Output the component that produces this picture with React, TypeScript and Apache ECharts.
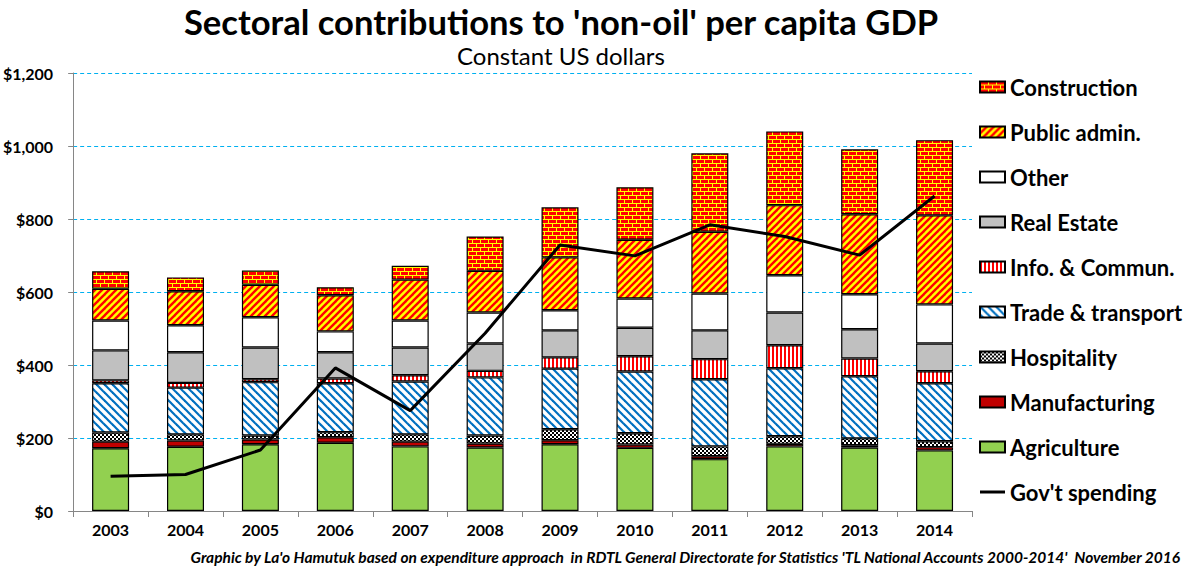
import React, { useEffect, useRef } from "react";
import * as echarts from "echarts";

const years = ["2003", "2004", "2005", "2006", "2007", "2008", "2009", "2010", "2011", "2012", "2013", "2014"];
const agriculture = [172, 176, 183, 187, 177, 174, 183, 173, 142, 177, 174, 166];
const manufacturing = [18, 17, 13, 15, 13, 11, 11, 9, 8, 7, 6, 9];
const hospitality = [25, 17, 11, 14, 20, 22, 30, 31, 27, 21, 19, 16];
const tradeTransport = [135, 128, 146, 134, 145, 159, 166, 169, 184, 186, 170, 159];
const infoCommun = [8, 13, 8, 13, 17, 18, 31, 42, 55, 63, 49, 33];
const realEstate = [82, 84, 87, 72, 76, 75, 74, 78, 79, 90, 80, 76];
const other = [82, 74, 83, 57, 74, 85, 55, 80, 101, 102, 96, 107];
const publicAdmin = [87, 93, 89, 99, 112, 114, 145, 161, 169, 192, 219, 244];
const construction = [48, 38, 39, 22, 38, 94, 137, 144, 215, 202, 178, 206];
const govSpending = [95, 100, 167, 392, 275, 487, 729, 699, 784, 752, 701, 863];

const FONT = "Lato, 'Liberation Sans', sans-serif";

function makePattern(w: number, h: number, draw: (ctx: CanvasRenderingContext2D) => void) {
  const c = document.createElement("canvas");
  c.width = w;
  c.height = h;
  const ctx = c.getContext("2d") as CanvasRenderingContext2D;
  draw(ctx);
  return { image: c.toDataURL(), repeat: "repeat", imageWidth: w, imageHeight: h } as any;
}

function diag(ctx: CanvasRenderingContext2D, size: number, color: string, lw: number, forward: boolean) {
  ctx.strokeStyle = color;
  ctx.lineWidth = lw;
  for (let k = -size; k <= size; k += size) {
    ctx.beginPath();
    if (forward) {
      ctx.moveTo(k - 1, size + 1);
      ctx.lineTo(k + size + 1, -1);
    } else {
      ctx.moveTo(k - 1, -1);
      ctx.lineTo(k + size + 1, size + 1);
    }
    ctx.stroke();
  }
}

export default function App() {
  const ref = useRef<HTMLDivElement>(null);
  useEffect(() => {
    if (!ref.current) return;
    const chart = echarts.init(ref.current, null, { renderer: "svg" });

    const brick = makePattern(8, 8, (ctx) => {
      ctx.fillStyle = "#FF0000";
      ctx.fillRect(0, 0, 8, 8);
      ctx.fillStyle = "#FFFF00";
      ctx.fillRect(0, 3, 8, 1);
      ctx.fillRect(0, 7, 8, 1);
      ctx.fillRect(0, 0, 1, 3);
      ctx.fillRect(4, 4, 1, 3);
    });
    const yellowRed = makePattern(7, 7, (ctx) => {
      ctx.fillStyle = "#FFFF00";
      ctx.fillRect(0, 0, 7, 7);
      diag(ctx, 7, "#FF0000", 2.4, true);
    });
    const blueDiag = makePattern(8, 8, (ctx) => {
      ctx.fillStyle = "#FFFFFF";
      ctx.fillRect(0, 0, 8, 8);
      diag(ctx, 8, "#0070C0", 2.2, false);
    });
    const redVert = makePattern(4, 4, (ctx) => {
      ctx.fillStyle = "#FFFFFF";
      ctx.fillRect(0, 0, 4, 4);
      ctx.fillStyle = "#FF0000";
      ctx.fillRect(0, 0, 2, 4);
    });
    const checker = makePattern(4, 4, (ctx) => {
      ctx.fillStyle = "#FFFFFF";
      ctx.fillRect(0, 0, 4, 4);
      ctx.fillStyle = "#000000";
      ctx.fillRect(0, 0, 2, 2);
      ctx.fillRect(2, 2, 2, 2);
    });

    const barDefs: [string, number[], any][] = [
      ["Agriculture", agriculture, "#92D050"],
      ["Manufacturing", manufacturing, "#C00000"],
      ["Hospitality", hospitality, checker],
      ["Trade & transport", tradeTransport, blueDiag],
      ["Info. & Commun.", infoCommun, redVert],
      ["Real Estate", realEstate, "#C0C0C0"],
      ["Other", other, "#FFFFFF"],
      ["Public admin.", publicAdmin, yellowRed],
      ["Construction", construction, brick],
    ];

    const series: any[] = barDefs.map(([name, data, color]) => ({
      name,
      type: "bar",
      stack: "gdp",
      data,
      barWidth: 37,
      itemStyle: { color, borderColor: "#000000", borderWidth: 1.2 },
      emphasis: { disabled: true },
    }));
    series.push({
      name: "Gov't spending",
      type: "line",
      data: govSpending,
      symbol: "none",
      showSymbol: false,
      z: 10,
      lineStyle: { color: "#000000", width: 3 },
      itemStyle: { color: "#000000" },
    });

    const legendOrder: any[] = [
      "Construction",
      "Public admin.",
      "Other",
      "Real Estate",
      "Info. & Commun.",
      "Trade & transport",
      "Hospitality",
      "Manufacturing",
      "Agriculture",
      {
        name: "Gov't spending",
        icon: "path://M0,0L25,0L25,3L0,3Z",
        itemStyle: { color: "#000000", borderWidth: 0 },
      },
    ];

    chart.setOption({
      animation: false,
      backgroundColor: "#FFFFFF",
      grid: { left: 72, right: 216, top: 73, bottom: 58, containLabel: false },
      graphic: [
        {
          type: "text",
          x: 561,
          y: 21,
          style: {
            text: "Sectoral contributions to 'non-oil' per capita GDP",
            font: `bold 34.6px ${FONT}`,
            fill: "#000000",
            textAlign: "center",
            textVerticalAlign: "middle",
            align: "center",
            verticalAlign: "middle",
          },
        },
        {
          type: "text",
          x: 561,
          y: 55,
          style: {
            text: "Constant US dollars",
            font: `24px ${FONT}`,
            fill: "#000000",
            textAlign: "center",
            textVerticalAlign: "middle",
            align: "center",
            verticalAlign: "middle",
          },
        },
        {
          type: "text",
          x: 1180,
          y: 557,
          style: {
            text: "Graphic by La'o Hamutuk based on expenditure approach  in RDTL General Directorate for Statistics 'TL National Accounts 2000-2014'  November 2016",
            font: `italic bold 15.5px ${FONT}`,
            fill: "#000000",
            textAlign: "right",
            textVerticalAlign: "middle",
            align: "right",
            verticalAlign: "middle",
          },
        },
      ],
      legend: {
        orient: "vertical",
        left: 974,
        top: 71,
        icon: "rect",
        itemWidth: 25,
        itemHeight: 11,
        itemGap: 23,
        data: legendOrder,
        selectedMode: false,
        textStyle: { fontFamily: FONT, fontWeight: "bold", fontSize: 22, color: "#000000" },
      },
      xAxis: {
        type: "category",
        data: years,
        axisLine: { lineStyle: { color: "#868686", width: 1 } },
        axisTick: { show: true, length: 6, lineStyle: { color: "#868686" } },
        axisLabel: { fontFamily: FONT, fontWeight: "bold", fontSize: 16, color: "#000000", margin: 10 },
      },
      yAxis: {
        type: "value",
        min: 0,
        max: 1200,
        interval: 200,
        axisLine: { show: true, lineStyle: { color: "#868686", width: 1 } },
        axisTick: { show: true, length: 5, lineStyle: { color: "#868686" } },
        axisLabel: {
          fontFamily: FONT,
          fontWeight: "bold",
          fontSize: 16,
          color: "#000000",
          margin: 20,
          formatter: (v: number) => "$" + v.toLocaleString("en-US"),
        },
        splitLine: { show: true, lineStyle: { color: "#00B0F0", type: [4, 3], width: 1 } },
      },
      series,
    });
    return () => chart.dispose();
  }, []);
  return (
    <div
      ref={ref}
      style={{ position: "fixed", left: 0, top: 0, width: 1188, height: 569, background: "#fff" }}
    />
  );
}
